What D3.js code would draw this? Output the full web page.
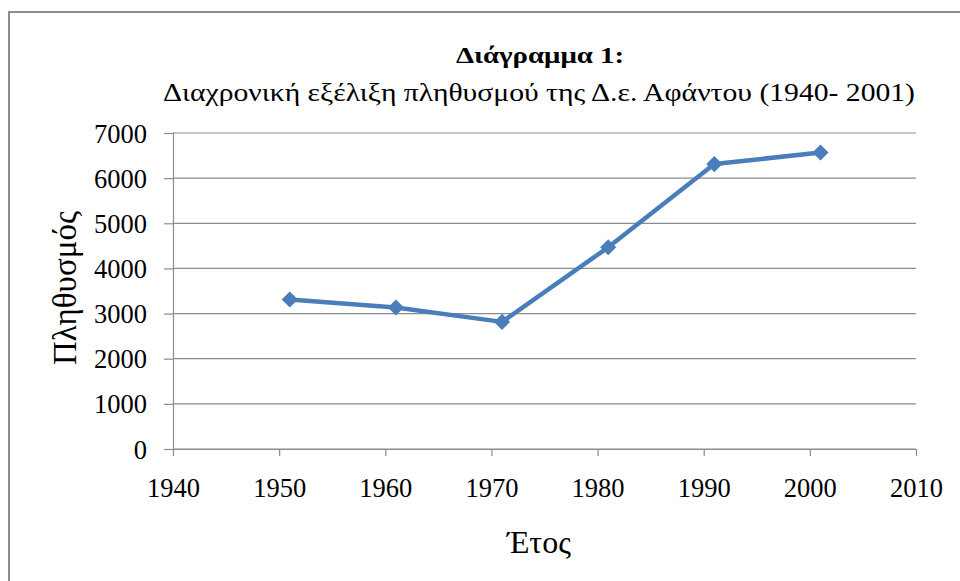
<!DOCTYPE html>
<html lang="el">
<head>
  <meta charset="UTF-8" />
  <title>Διάγραμμα 1</title>
  <script src="https://d3js.org/d3.v7.min.js"></script>
  <style>
    body { margin: 0; background: #fff; }
  </style>
</head>
<body>
<svg width="960" height="581"></svg>
<script>
  const years = [1951, 1961, 1971, 1981, 1991, 2001];
  const population = [3313, 3135, 2816, 4468, 6311, 6569];
  const xTicks = [1940, 1950, 1960, 1970, 1980, 1990, 2000, 2010];
  const yTicks = [0, 1000, 2000, 3000, 4000, 5000, 6000, 7000];

  const font = "Liberation Serif";
  const svg = d3.select("svg");
  const margin = { left: 173, right: 44, top: 133, bottom: 132 };
  const width = 960 - margin.left - margin.right,
        height = 581 - margin.top - margin.bottom;

  // cadre du graphique
  svg.append("rect")
    .attr("x", 9).attr("y", 12)
    .attr("width", 1000).attr("height", 1000)
    .attr("fill", "none").attr("stroke", "#8c8c8c").attr("stroke-width", 2);

  const g = svg.append("g").attr("transform", `translate(${margin.left},${margin.top})`);

  const x = d3.scaleLinear().domain([1940, 2010]).range([0, width]);
  const y = d3.scaleLinear().domain([0, 7000]).range([height, 0]);

  // grille horizontale
  g.append("g")
    .selectAll("line")
    .data(yTicks)
    .enter().append("line")
    .attr("x1", 0).attr("x2", width)
    .attr("y1", d => y(d)).attr("y2", d => y(d))
    .attr("stroke", "#8c8c8c").attr("stroke-width", 1.2);

  const yAxis = g.append("g")
    .call(d3.axisLeft(y).tickValues(yTicks).tickSize(9).tickPadding(17).tickFormat(d3.format("d")));
  yAxis.select(".domain").attr("stroke", "#8c8c8c").attr("stroke-width", 1.2);
  yAxis.selectAll(".tick line").attr("stroke", "#8c8c8c").attr("stroke-width", 1.2);
  yAxis.selectAll("text")
    .style("font-family", font).style("font-size", "26.5px").attr("fill", "#000").attr("dy", "0.34em");

  const xAxis = g.append("g")
    .attr("transform", `translate(0,${height})`)
    .call(d3.axisBottom(x).tickValues(xTicks).tickSize(7).tickSizeOuter(0).tickPadding(22.5).tickFormat(d3.format("d")));
  xAxis.select(".domain").attr("stroke", "#8c8c8c").attr("stroke-width", 1.2);
  xAxis.selectAll(".tick line").attr("stroke", "#8c8c8c").attr("stroke-width", 1.2);
  xAxis.selectAll("text")
    .style("font-family", font).style("font-size", "26.5px").attr("fill", "#000");

  const data = years.map((yr, i) => ({ year: yr, value: population[i] }));

  g.append("path")
    .datum(data)
    .attr("fill", "none")
    .attr("stroke", "#4a7ebb")
    .attr("stroke-width", 4.5)
    .attr("stroke-linejoin", "round")
    .attr("d", d3.line().x(d => x(d.year)).y(d => y(d.value)));

  g.selectAll(".marker")
    .data(data)
    .enter().append("path")
    .attr("class", "marker")
    .attr("transform", d => `translate(${x(d.year)},${y(d.value)}) rotate(45)`)
    .attr("d", d3.symbol().type(d3.symbolSquare).size(130))
    .attr("fill", "#4a7ebb");

  // titres
  svg.append("text")
    .attr("x", 540).attr("y", 63)
    .attr("text-anchor", "middle")
    .style("font-family", font).style("font-size", "24px").style("font-weight", "bold")
    .attr("textLength", 168).attr("lengthAdjust", "spacingAndGlyphs")
    .text("Διάγραμμα 1:");

  svg.append("text")
    .attr("x", 539).attr("y", 101)
    .attr("text-anchor", "middle")
    .style("font-family", font).style("font-size", "26px")
    .attr("textLength", 752).attr("lengthAdjust", "spacingAndGlyphs")
    .text("Διαχρονική εξέλιξη πληθυσμού της Δ.ε. Αφάντου (1940- 2001)");

  svg.append("text")
    .attr("x", 539).attr("y", 553)
    .attr("text-anchor", "middle")
    .style("font-family", font).style("font-size", "32px")
    .text("Έτος");

  svg.append("text")
    .attr("transform", "translate(76,288) rotate(-90)")
    .attr("text-anchor", "middle")
    .style("font-family", font).style("font-size", "33px")
    .text("Πληθυσμός");
</script>
</body>
</html>
